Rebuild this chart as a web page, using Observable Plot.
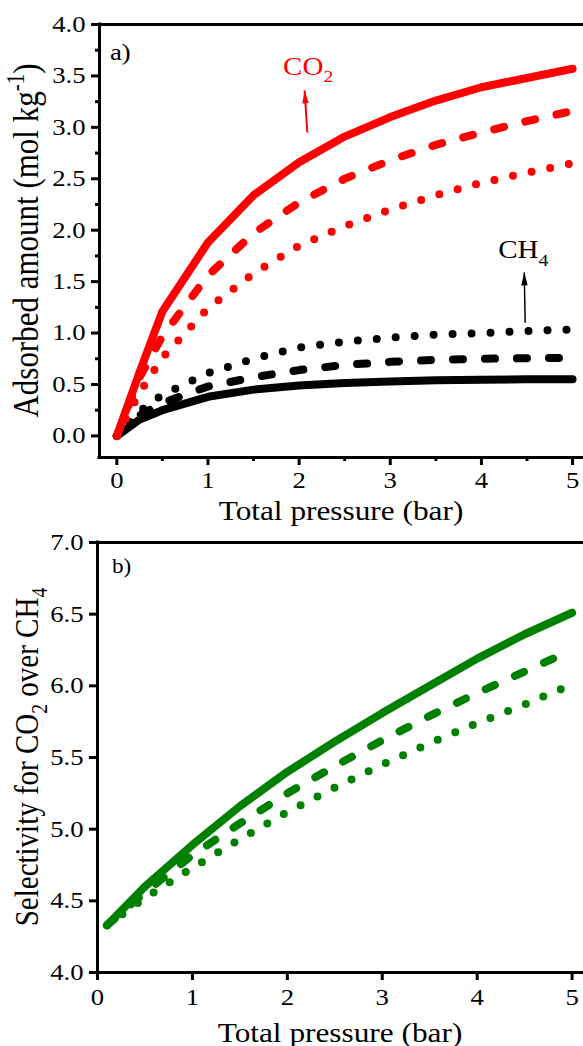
<!DOCTYPE html>
<html>
<head>
<meta charset="utf-8">
<script src="https://cdn.jsdelivr.net/npm/d3@7"></script>
<script src="https://cdn.jsdelivr.net/npm/@observablehq/plot@0.6"></script>
<style>
  body { margin: 0; background: #fff; }
  #figure { width: 583px; }
  #figure svg { display: block; }
</style>
</head>
<body>
<div id="figure"></div>
<script>
// ---- a) adsorption isotherms (mol/kg) versus total pressure (bar) ----
const pressureA = [0, 0.25, 0.5, 1, 1.5, 2, 2.5, 3, 3.5, 4, 4.5, 5];
const co2Solid  = [0, 0.62, 1.21, 1.88, 2.34, 2.66, 2.91, 3.10, 3.26, 3.39, 3.48, 3.57];
const co2Dashed = [0, 0.57, 0.97, 1.56, 1.97, 2.27, 2.50, 2.68, 2.83, 2.95, 3.06, 3.16];
const co2Dotted = [0, 0.42, 0.76, 1.24, 1.58, 1.85, 2.04, 2.20, 2.34, 2.46, 2.56, 2.65];
const ch4Solid  = [0, 0.16, 0.25, 0.38, 0.45, 0.49, 0.515, 0.53, 0.54, 0.545, 0.55, 0.55];
const ch4Dashed = [0, 0.20, 0.32, 0.48, 0.57, 0.64, 0.69, 0.72, 0.74, 0.75, 0.755, 0.76];
const ch4Dotted = [0, 0.24, 0.40, 0.61, 0.75, 0.86, 0.915, 0.955, 0.985, 1.0, 1.02, 1.035];

const xDomainA = [-0.19, 5.12];
const yDomainA = [-0.21, 4.0];
const xTicksA = [0, 1, 2, 3, 4, 5];
const xMinorA = [0.5, 1.5, 2.5, 3.5, 4.5];
const yTicksA = [0, 0.5, 1, 1.5, 2, 2.5, 3, 3.5, 4];
const yMinorA = [0.25, 0.75, 1.25, 1.75, 2.25, 2.75, 3.25, 3.75];

// gas labels and their pointer arrows (data units)
const co2Label = {x: 1.83, y: 3.50};
const co2Arrow = {x1: 2.09, y1: 2.95, x2: 2.06, y2: 3.36};
const ch4Label = {x: 4.19, y: 1.72};
const ch4Arrow = {x1: 4.48, y1: 1.10, x2: 4.47, y2: 1.59};

// ---- b) CO2/CH4 selectivity versus total pressure (bar) ----
const pressureB = [0.1, 0.5, 1, 1.5, 2, 2.5, 3, 3.5, 4, 4.5, 5];
const selSolid  = [4.33, 4.60, 4.89, 5.16, 5.40, 5.61, 5.81, 6.00, 6.19, 6.36, 6.51];
const selDashed = [4.33, 4.56, 4.82, 5.04, 5.25, 5.44, 5.62, 5.79, 5.95, 6.10, 6.25];
const selDotted = [4.33, 4.52, 4.73, 4.93, 5.12, 5.29, 5.45, 5.60, 5.74, 5.87, 6.01];

const xDomainB = [0, 5.12];
const yDomainB = [4, 7];
const xTicksB = [0, 1, 2, 3, 4, 5];
const yTicksB = [4, 4.5, 5, 5.5, 6, 6.5, 7];

// ---- styling ----
const RED = "#ff0000", BLACK = "#000000", GREEN = "#008000";
const FONT = "'Liberation Serif', 'Times New Roman', serif";
const K = 1.16;               // lettering is drawn slightly wide
const DASH = "10,22", DOT = "0,19";
const TICK_FONT = 23;

function curve(xs, ys, stroke, dash) {
  return Plot.line(ys, {
    x: (d, i) => xs[i], y: d => d,
    stroke, strokeWidth: 8, strokeDasharray: dash,
    strokeLinecap: "round", strokeLinejoin: "round"
  });
}

// narrow filled arrowhead whose tip sits on the anchor point
const arrowHead = {
  draw(context) {
    context.moveTo(0, 0);
    context.lineTo(-3.2, 13);
    context.lineTo(3.2, 13);
    context.closePath();
  }
};

function pointer(a, color, width, rotate) {
  return [
    Plot.link([a], {x1: "x1", y1: "y1", x2: "x2", y2: d => d.y2, stroke: color, strokeWidth: width}),
    Plot.dot([a], {x: "x2", y: "y2", symbol: arrowHead, fill: color, stroke: "none", rotate})
  ];
}

function frameAxes(xDomain, yDomain, xTicks, yTicks, xFmt, yFmt, xPad, yPad, extra = []) {
  return [
    Plot.ruleY([yDomain[0], yDomain[1]], {strokeWidth: 3, strokeLinecap: "square"}),
    Plot.ruleX([xDomain[0]], {strokeWidth: 3, strokeLinecap: "square"}),
    Plot.axisX(xTicks, {tickSize: 8, tickPadding: xPad, strokeWidth: 3, label: null, tickFormat: xFmt, fontSize: TICK_FONT}),
    Plot.axisY(yTicks, {tickSize: 8, tickPadding: yPad, strokeWidth: 3, label: null, tickFormat: yFmt, fontSize: TICK_FONT}),
    ...extra
  ];
}

// text with sub/superscript pieces, widened horizontally
function lettering(svg, {x, y, size, fill = "black", anchor = "start", rotate = 0, parts}) {
  const t = d3.select(svg).append("text")
    .attr("font-family", FONT)
    .attr("font-size", size)
    .attr("fill", fill)
    .attr("text-anchor", anchor)
    .attr("transform", rotate
      ? `translate(${x},${y}) rotate(${rotate}) scale(1,${K})`
      : `translate(${x},${y}) scale(${K},1)`);
  let shift = 0;
  for (const [str, kind] of parts) {
    const s = kind ? size * 0.68 : size;
    const target = kind === "sub" ? size * 0.28 : kind === "sup" ? -size * 0.38 : 0;
    t.append("tspan").attr("font-size", s).attr("dy", target - shift).text(str);
    shift = target;
  }
  return t;
}

function widenTicks(svg) {
  svg.querySelectorAll('g[aria-label$="tick label"] text').forEach(el => {
    el.setAttribute("transform", (el.getAttribute("transform") || "") + ` scale(${K},1)`);
  });
}

const fmt1 = d3.format(".1f"), fmt0 = d3.format("d"), blank = () => "";
const baseStyle = {fontFamily: FONT, fontSize: TICK_FONT + "px", color: "black", background: "white", overflow: "visible"};

// ---------- panel a ----------
const A = {width: 583, height: 532, marginLeft: 99, marginTop: 24, marginBottom: 75, marginRight: 0};
const chartA = Plot.plot({
  ...A,
  x: {domain: xDomainA},
  y: {domain: yDomainA},
  style: baseStyle,
  marks: [
    curve(pressureA, ch4Solid, BLACK),
    curve(pressureA, ch4Dashed, BLACK, DASH),
    curve(pressureA, ch4Dotted, BLACK, DOT),
    curve(pressureA, co2Dotted, RED, DOT),
    curve(pressureA, co2Dashed, RED, DASH),
    curve(pressureA, co2Solid, RED),
    ...pointer(co2Arrow, RED, 2, -4),
    ...pointer(ch4Arrow, BLACK, 1.5, -1),
    ...frameAxes(xDomainA, yDomainA, xTicksA, yTicksA, fmt0, fmt1, 6, 6, [
      Plot.axisX(xMinorA, {tickSize: 4, strokeWidth: 3, label: null, tickFormat: blank}),
      Plot.axisY(yMinorA, {tickSize: 4, strokeWidth: 3, label: null, tickFormat: blank})
    ])
  ]
});
widenTicks(chartA);
{
  const sx = chartA.scale("x").apply, sy = chartA.scale("y").apply;
  const midX = (A.marginLeft + A.width - A.marginRight) / 2;
  const midY = (A.marginTop + A.height - A.marginBottom) / 2;
  lettering(chartA, {x: A.marginLeft + 11, y: A.marginTop + 36, size: 23, parts: [["a)"]]});
  lettering(chartA, {x: sx(co2Label.x), y: sy(co2Label.y), size: 25, fill: RED, parts: [["CO"], ["2", "sub"]]});
  lettering(chartA, {x: sx(ch4Label.x), y: sy(ch4Label.y), size: 25, parts: [["CH"], ["4", "sub"]]});
  lettering(chartA, {x: midX, y: A.height - A.marginBottom + 63, size: 27, anchor: "middle", parts: [["Total pressure (bar)"]]});
  lettering(chartA, {x: 38, y: midY, size: 31, anchor: "middle", rotate: -90,
    parts: [["Adsorbed amount (mol kg"], ["-1", "sup"], [")"]]});
}

// ---------- panel b ----------
const B = {width: 583, height: 514, marginLeft: 97, marginTop: 10, marginBottom: 74, marginRight: 0};
const chartB = Plot.plot({
  ...B,
  x: {domain: xDomainB},
  y: {domain: yDomainB},
  style: baseStyle,
  marks: [
    curve(pressureB, selDotted, GREEN, DOT),
    curve(pressureB, selDashed, GREEN, DASH),
    curve(pressureB, selSolid, GREEN),
    ...frameAxes(xDomainB, yDomainB, xTicksB, yTicksB, fmt0, fmt1, 8, 6)
  ]
});
widenTicks(chartB);
{
  const midX = (B.marginLeft + B.width - B.marginRight) / 2;
  const midY = (B.marginTop + B.height - B.marginBottom) / 2;
  lettering(chartB, {x: B.marginLeft + 15, y: B.marginTop + 31, size: 20, parts: [["b)"]]});
  lettering(chartB, {x: midX, y: B.height - B.marginBottom + 70, size: 27, anchor: "middle", parts: [["Total pressure (bar)"]]});
  lettering(chartB, {x: 38, y: midY, size: 29, anchor: "middle", rotate: -90,
    parts: [["Selectivity for CO"], ["2", "sub"], [" over CH"], ["4", "sub"]]});
}

document.getElementById("figure").append(chartA, chartB);
</script>
</body>
</html>
